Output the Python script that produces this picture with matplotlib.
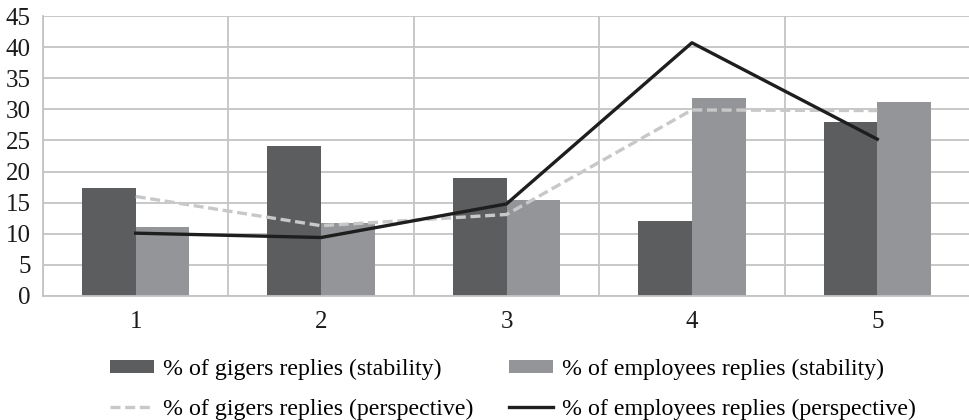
import matplotlib
matplotlib.use("Agg")
import matplotlib.pyplot as plt
import numpy as np

categories = ["1", "2", "3", "4", "5"]
gigers_stability = [17.4, 24.1, 19.0, 12.1, 27.9]
employees_stability = [11.1, 11.8, 15.4, 31.9, 31.2]
gigers_perspective = [16.0, 11.3, 13.1, 29.9, 29.8]
employees_perspective = [10.1, 9.4, 14.8, 40.7, 25.2]
y_ticks = [0, 5, 10, 15, 20, 25, 30, 35, 40, 45]

labels = [
    "% of gigers replies (stability)",
    "% of employees replies (stability)",
    "% of gigers replies (perspective)",
    "% of employees replies (perspective)",
]

plt.rcParams["font.family"] = ["Liberation Serif", "DejaVu Serif"]

fig = plt.figure(figsize=(9.69, 4.2), dpi=100)
ax = fig.add_axes([43 / 969, 1 - 296 / 420, 927 / 969, 280 / 420])

x = np.arange(len(categories))
w = 0.29
grid_c = "#c4c4c4"

b1 = ax.bar(x - w / 2, gigers_stability, w, color="#5c5d5f", zorder=2, label=labels[0])
b2 = ax.bar(x + w / 2, employees_stability, w, color="#939598", zorder=2, label=labels[1])
l1, = ax.plot(x, gigers_perspective, color="#c8c8c8", lw=2.4, ls=(0, (3, 1.4)),
              zorder=3, label=labels[2])
l2, = ax.plot(x, employees_perspective, color="#1e1e1e", lw=2.4, zorder=4,
              label=labels[3])

ax.set_xlim(-0.5, len(categories) - 0.5)
ax.set_ylim(0, 45)
ax.set_yticks(y_ticks)
ax.set_xticks(x)
ax.set_xticklabels(categories)
ax.set_xticks(np.arange(len(categories) + 1) - 0.5, minor=True)

ax.grid(axis="y", which="major", color=grid_c, lw=1.3, zorder=0)
ax.grid(axis="x", which="minor", color=grid_c, lw=1.3, zorder=0)
ax.tick_params(axis="both", which="both", length=0, labelsize=18, colors="#1a1a1a")
ax.tick_params(axis="y", pad=9)
ax.tick_params(axis="x", pad=11)

for s in ["top", "right"]:
    ax.spines[s].set_visible(False)
ax.spines["left"].set_color(grid_c)
ax.spines["left"].set_linewidth(1.3)
ax.spines["bottom"].set_color(grid_c)
ax.spines["bottom"].set_linewidth(1.3)

# two columns, filled row by row
fig.legend(handles=[b1, l1, b2, l2],
           labels=[labels[0], labels[2], labels[1], labels[3]],
           loc="lower left", bbox_to_anchor=(110 / 969, 0), ncol=2,
           frameon=False, fontsize=17.2, handlelength=1.85, handleheight=0.48,
           handletextpad=0.36, columnspacing=1.5, labelspacing=0.8,
           borderpad=0, borderaxespad=0)

fig.savefig("out.png", dpi=100)
